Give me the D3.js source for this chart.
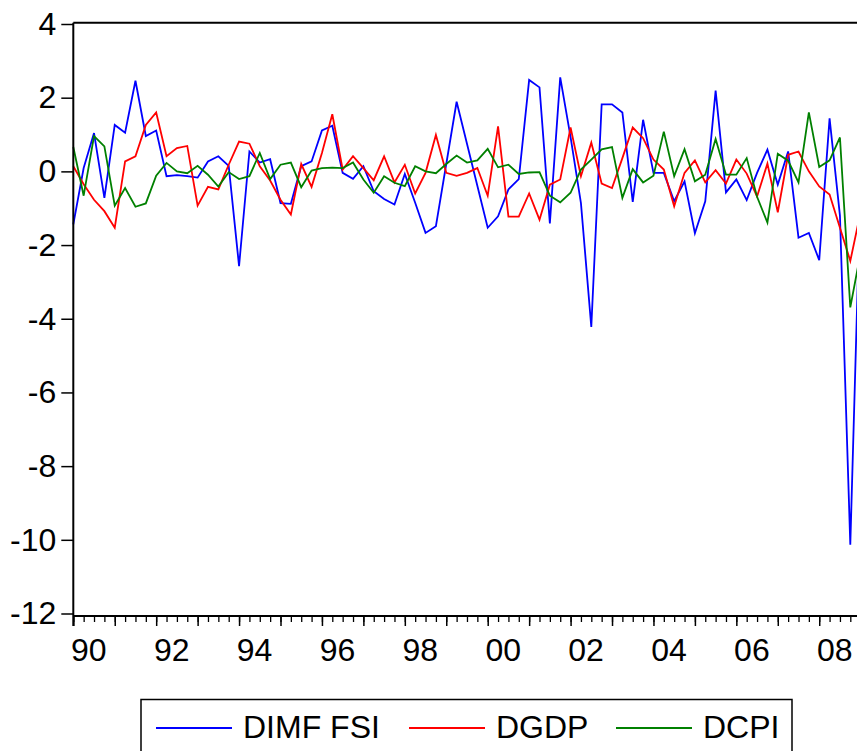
<!DOCTYPE html>
<html lang="en">
  <head>
    <meta charset="utf-8" />
    <title>DIMF FSI, DGDP, DCPI</title>
    <script src="https://d3js.org/d3.v7.min.js"></script>
    <style type="text/css">
      body {
        margin: 0;
        background: #ffffff;
      }
      svg {
        display: block;
      }
      text {
        font-family: "Liberation Sans", Arial, sans-serif;
        font-size: 32px;
        fill: #000000;
      }
    </style>
  </head>
  <body>
    <svg id="chart" width="857" height="751"></svg>

    <script type="text/javascript">
      // quarterly data, 1990Q1 onwards (last obs is cut off by the right edge)
      const startYear = 1990;

      const dimfFsi = [
        -1.44, 0.09, 1.04, -0.72, 1.26, 1.05, 2.46, 0.96, 1.11, -0.13,
        -0.10, -0.13, -0.17, 0.27, 0.41, 0.15, -2.57, 0.54, 0.24, 0.33,
        -0.86, -0.88, 0.14, 0.27, 1.11, 1.24, -0.04, -0.20, 0.14, -0.54,
        -0.75, -0.90, -0.07, -0.85, -1.67, -1.49, 0.20, 1.89, 0.75, -0.39,
        -1.53, -1.22, -0.49, -0.21, 2.48, 2.28, -1.41, 2.55, 0.93, -0.86,
        -4.22, 1.82, 1.82, 1.60, -0.83, 1.40, -0.04, -0.04, -0.81, -0.27,
        -1.68, -0.81, 2.19, -0.57, -0.22, -0.78, -0.04, 0.59, -0.36, 0.54,
        -1.80, -1.67, -2.41, 1.44, -1.20, -10.13, -0.25
      ];
      const dgdp = [
        0.14, -0.35, -0.77, -1.08, -1.53, 0.27, 0.41, 1.26, 1.60, 0.41,
        0.63, 0.69, -0.93, -0.42, -0.49, 0.18, 0.81, 0.75, 0.14, -0.25,
        -0.77, -1.17, 0.20, -0.42, 0.50, 1.55, 0.05, 0.41, 0.09, -0.24,
        0.41, -0.30, 0.18, -0.60, -0.04, 0.99, -0.04, -0.12, -0.04, 0.09,
        -0.66, 1.22, -1.23, -1.23, -0.60, -1.31, -0.36, -0.22, 1.19, -0.13,
        0.78, -0.33, -0.45, 0.36, 1.19, 0.90, 0.32, 0.05, -0.95, -0.04,
        0.30, -0.30, 0.03, -0.33, 0.32, -0.06, -0.68, 0.21, -1.11, 0.45,
        0.54, 0.00, -0.41, -0.63, -1.53, -2.43, -1.10
      ];
      const dcpi = [
        0.66, -0.66, 0.96, 0.68, -0.93, -0.45, -0.96, -0.87, -0.12, 0.23,
        0.00, -0.05, 0.15, -0.09, -0.41, -0.02, -0.21, -0.13, 0.50, -0.21,
        0.18, 0.24, -0.43, 0.02, 0.09, 0.10, 0.09, 0.24, -0.22, -0.58,
        -0.13, -0.31, -0.40, 0.14, 0.00, -0.05, 0.20, 0.43, 0.24, 0.30,
        0.61, 0.11, 0.18, -0.07, -0.03, -0.02, -0.66, -0.84, -0.58, 0.05,
        0.32, 0.60, 0.66, -0.72, 0.06, -0.30, -0.12, 1.08, -0.13, 0.60,
        -0.27, -0.09, 0.88, -0.09, -0.09, 0.36, -0.69, -1.39, 0.48, 0.29,
        -0.30, 1.60, 0.12, 0.30, 0.92, -3.69, -2.20
      ];

      const yTicks = [-12, -10, -8, -6, -4, -2, 0, 2, 4];
      const yearLabels = ["90", "92", "94", "96", "98", "00", "02", "04", "06", "08"];
      const seriesNames = ["DIMF FSI", "DGDP", "DCPI"];

      // quarter categories, "1990Q1", "1990Q2", ...
      const quarters = dimfFsi.map((d, i) =>
        (startYear + Math.floor(i / 4)) + "Q" + (i % 4 + 1));

      const series = [
        { name: seriesNames[0], values: dimfFsi, color: "#0000ff" },
        { name: seriesNames[1], values: dgdp, color: "#ff0000" },
        { name: seriesNames[2], values: dcpi, color: "#008000" }
      ];

      const svg = d3.select("#chart");

      // plot frame
      const plotLeft = 73.3;
      const plotTop = 22.7;
      const plotBottom = 616;

      const x = d3.scalePoint()
        .domain(quarters)
        .range([plotLeft, plotLeft + 10.36 * (quarters.length - 1)]);

      const y = d3.scaleLinear()
        .domain([-12, 4])
        .range([613.5, 24]);

      // series lines (blue, red, green drawn in that order)
      const line = d3.line()
        .x((d, i) => x(quarters[i]))
        .y(d => y(d));

      svg.selectAll("path.series")
        .data(series)
        .enter()
        .append("path")
        .attr("class", "series")
        .attr("d", d => line(d.values))
        .attr("fill", "none")
        .attr("stroke", d => d.color)
        .attr("stroke-width", 1.8)
        .attr("stroke-linejoin", "miter");

      // y axis: ticks and labels (plain hyphen minus like the original)
      const yAxis = svg.append("g")
        .attr("transform", `translate(${plotLeft},0)`)
        .call(d3.axisLeft(y)
          .tickValues(yTicks)
          .tickSize(12)
          .tickPadding(5)
          .tickFormat(d => String(d)));
      yAxis.attr("font-size", null).attr("font-family", null);
      yAxis.select(".domain").remove();
      yAxis.selectAll(".tick line").attr("stroke", "#000").attr("stroke-width", 1.5);

      // x axis: quarterly minor ticks, longer ticks at each year
      const xMinor = svg.append("g")
        .attr("transform", `translate(0,${plotBottom})`)
        .call(d3.axisBottom(x).tickValues(quarters).tickSize(6).tickFormat(""));
      xMinor.select(".domain").remove();
      xMinor.selectAll(".tick line").attr("stroke", "#000").attr("stroke-width", 1.3);

      const xMajor = svg.append("g")
        .attr("transform", `translate(0,${plotBottom})`)
        .call(d3.axisBottom(x)
          .tickValues(quarters.filter(q => q.endsWith("Q1")))
          .tickSize(10)
          .tickFormat(""));
      xMajor.select(".domain").remove();
      xMajor.selectAll(".tick line").attr("stroke", "#000").attr("stroke-width", 1.5);

      // year labels, centred over the four quarters of the year
      svg.append("g")
        .selectAll("text")
        .data(yearLabels)
        .enter()
        .append("text")
        .attr("x", d => {
          const yr = (+d < 50 ? 2000 : 1900) + (+d);
          return x(yr + "Q1") + 1.5 * x.step();
        })
        .attr("y", 661)
        .attr("text-anchor", "middle")
        .text(d => d);

      // frame lines
      svg.append("line")
        .attr("x1", plotLeft).attr("x2", plotLeft)
        .attr("y1", plotTop).attr("y2", plotBottom + 10)
        .attr("stroke", "#000").attr("stroke-width", 2);
      svg.append("line")
        .attr("x1", plotLeft).attr("x2", 860)
        .attr("y1", plotTop).attr("y2", plotTop)
        .attr("stroke", "#000").attr("stroke-width", 2);
      svg.append("line")
        .attr("x1", plotLeft).attr("x2", 860)
        .attr("y1", plotBottom).attr("y2", plotBottom)
        .attr("stroke", "#000").attr("stroke-width", 2);

      // legend box (bottom is cut off like in the original)
      const legend = svg.append("g");
      legend.append("rect")
        .attr("x", 141)
        .attr("y", 699.5)
        .attr("width", 651)
        .attr("height", 80)
        .attr("fill", "none")
        .attr("stroke", "#000")
        .attr("stroke-width", 1.5);

      const legendX = [156, 409, 616];
      const items = legend.selectAll("g.item")
        .data(series)
        .enter()
        .append("g")
        .attr("class", "item")
        .attr("transform", (d, i) => `translate(${legendX[i]},0)`);
      items.append("line")
        .attr("x1", 0).attr("x2", 76)
        .attr("y1", 728).attr("y2", 728)
        .attr("stroke", d => d.color)
        .attr("stroke-width", 1.8);
      items.append("text")
        .attr("x", 87)
        .attr("y", 738)
        .text(d => d.name);
    </script>
  </body>
</html>
